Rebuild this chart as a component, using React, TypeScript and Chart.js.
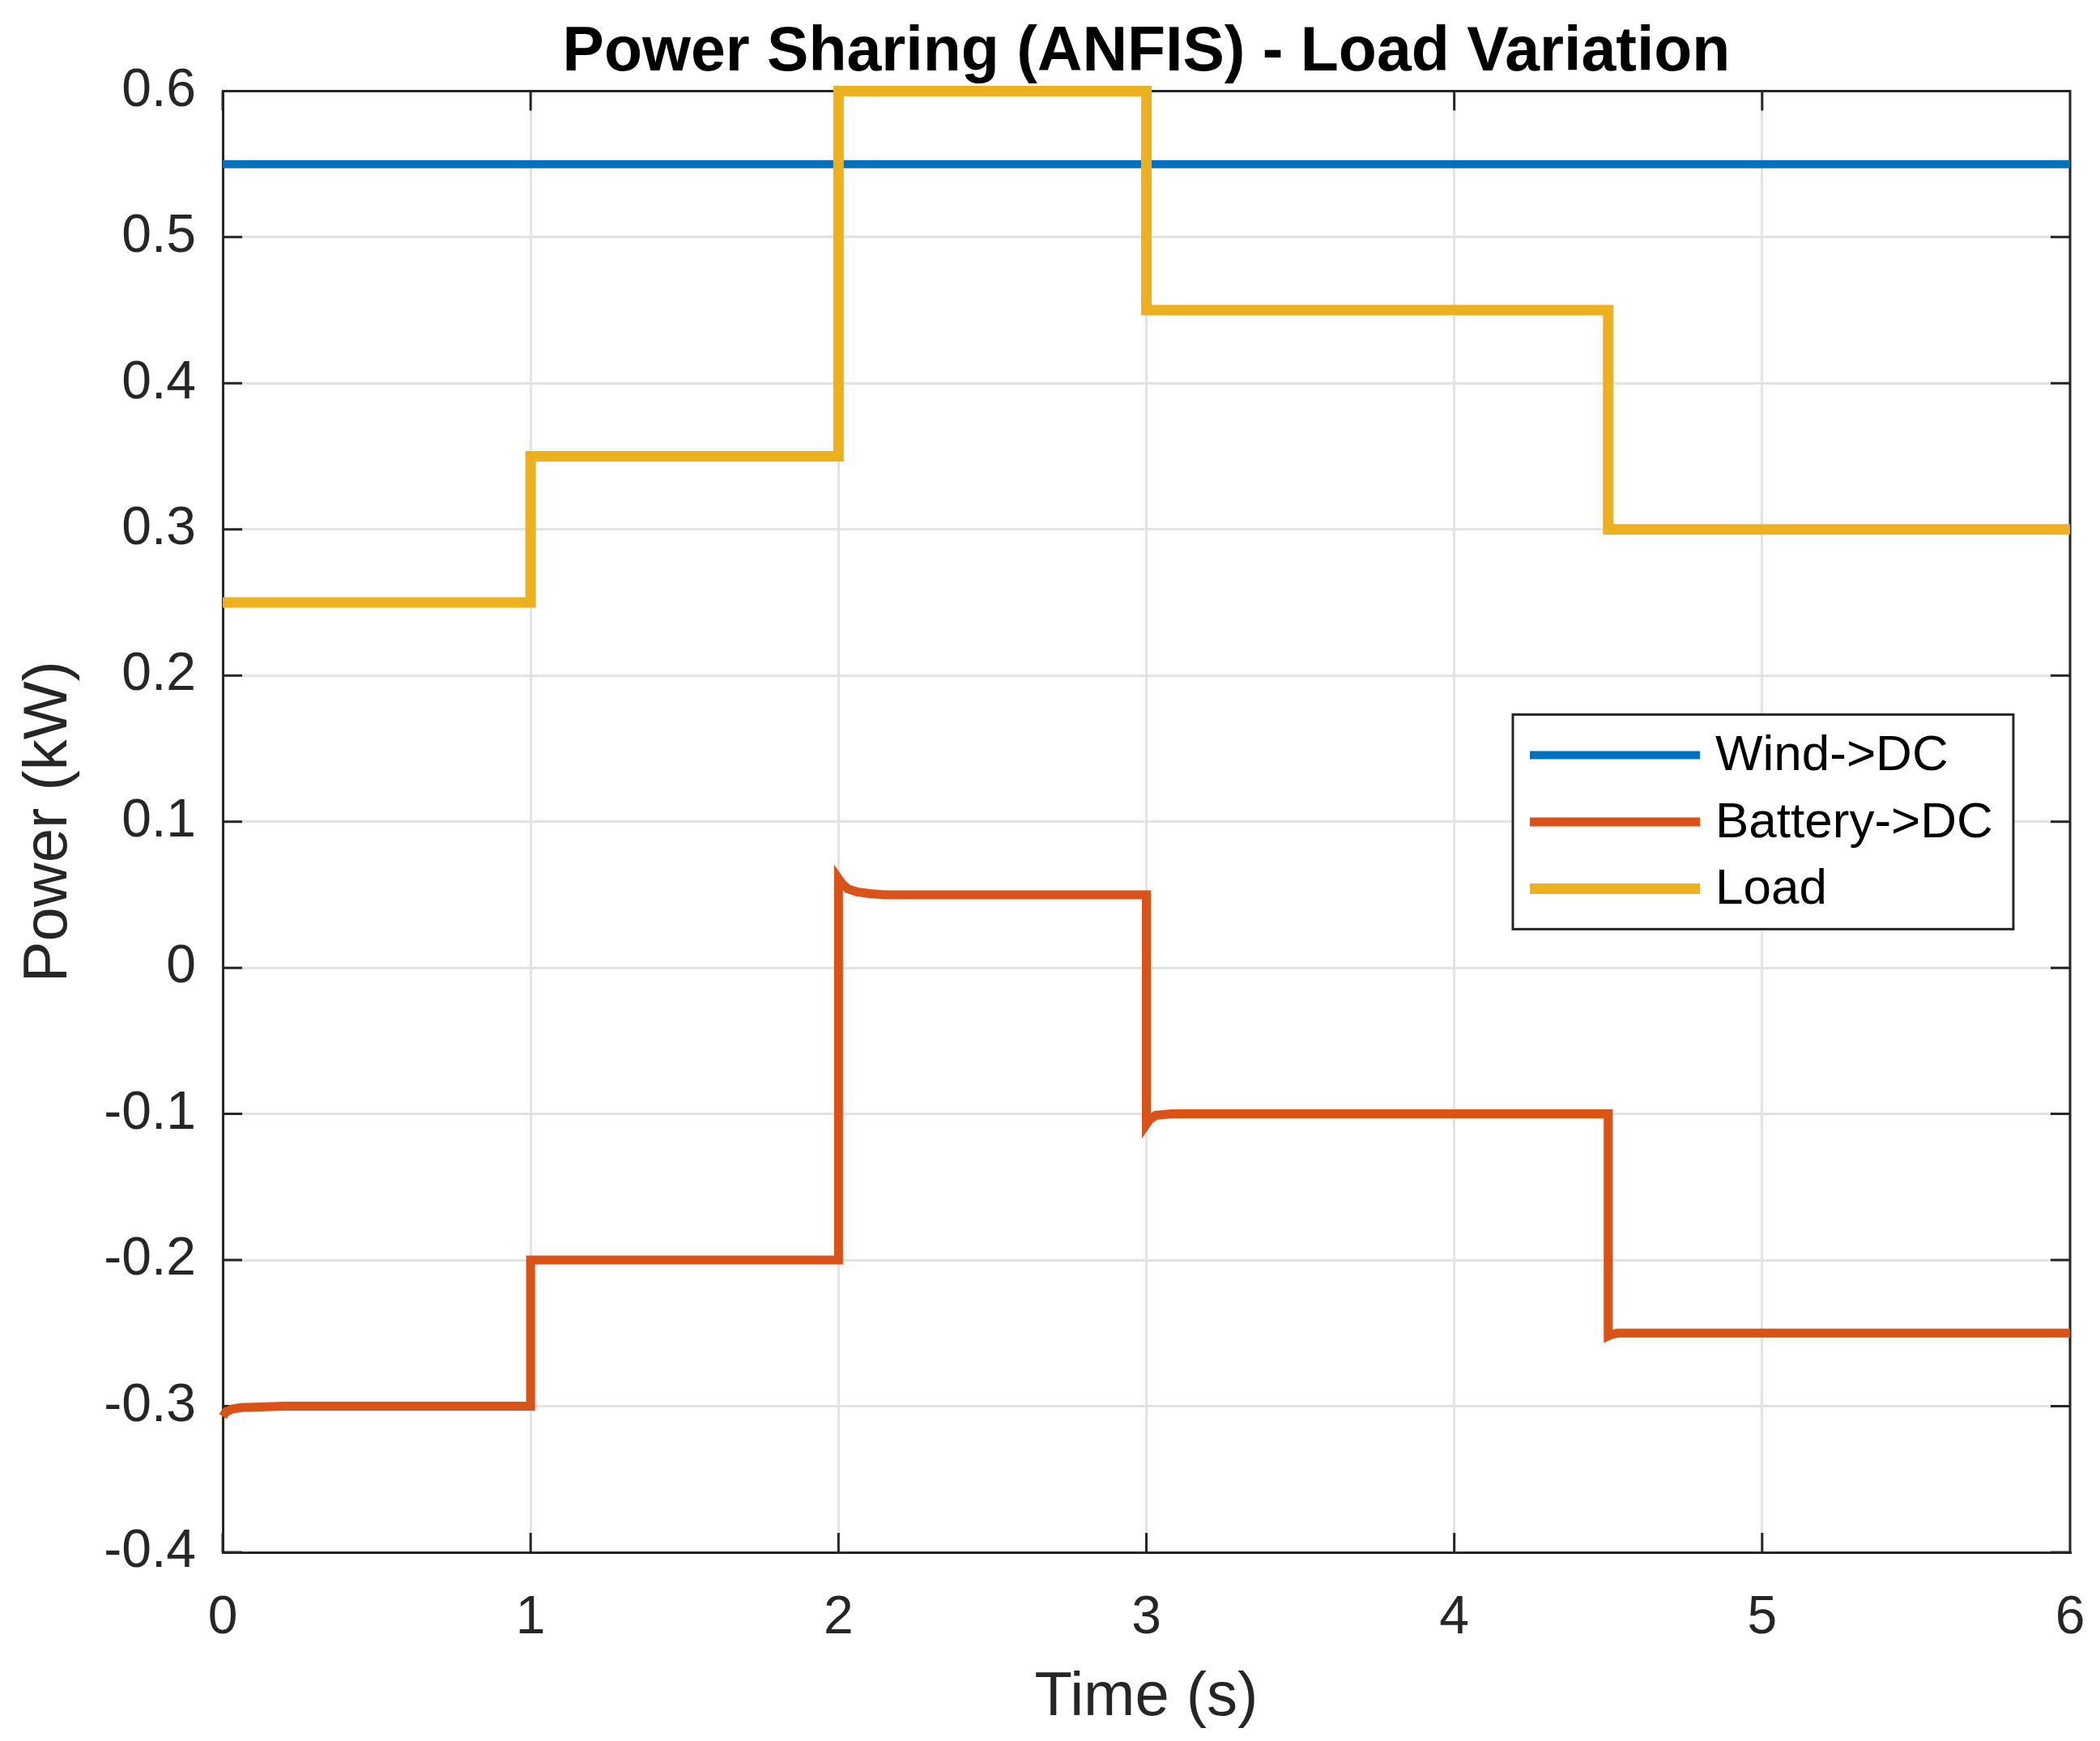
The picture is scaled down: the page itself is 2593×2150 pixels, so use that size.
import { useEffect, useRef } from 'react';
import Chart from 'chart.js/auto';

const FONT = '"Liberation Sans", Arial, Helvetica, sans-serif';
const AXIS_COLOR = '#262626';

const xTickValues = [0, 1, 2, 3, 4, 5, 6];
const xTickLabels = ['0', '1', '2', '3', '4', '5', '6'];
const yTickValues = [-0.4, -0.3, -0.2, -0.1, 0, 0.1, 0.2, 0.3, 0.4, 0.5, 0.6];
const yTickLabels = ['-0.4', '-0.3', '-0.2', '-0.1', '0', '0.1', '0.2', '0.3', '0.4', '0.5', '0.6'];

const windTime = [0, 6];
const windPower = [0.55, 0.55];

const batteryTime = [0, 0.01, 0.03, 0.06, 0.12, 0.2, 1, 1, 2, 2, 2.01, 2.03, 2.06, 2.1, 2.15, 3, 3, 3.01, 3.03, 3.08, 4.5, 4.5, 4.51, 4.53, 6];
const batteryPower = [-0.307, -0.304, -0.302, -0.301, -0.3005, -0.3, -0.3, -0.2, -0.2, 0.061, 0.058, 0.054, 0.052, 0.0508, 0.05, 0.05, -0.107, -0.104, -0.101, -0.1, -0.1, -0.252, -0.251, -0.25, -0.25];

const loadTime = [0, 1, 1, 2, 2, 3, 3, 4.5, 4.5, 6];
const loadPower = [0.25, 0.25, 0.35, 0.35, 0.6, 0.6, 0.45, 0.45, 0.3, 0.3];

const toPoints = (t: number[], p: number[]) => t.map((x, i) => ({ x, y: p[i] }));

// box outline on top/right + inward ticks on all four sides, like MATLAB
const matlabFrame = {
  id: 'matlabFrame',
  beforeDatasetsDraw(chart: any) {
    const { ctx, chartArea: a, scales } = chart;
    const len = 24;
    ctx.save();
    ctx.strokeStyle = AXIS_COLOR;
    ctx.lineWidth = 3;
    ctx.beginPath();
    ctx.moveTo(a.left, a.top);
    ctx.lineTo(a.right, a.top);
    ctx.lineTo(a.right, a.bottom);
    scales.x.ticks.forEach((t: any) => {
      const px = scales.x.getPixelForValue(t.value);
      ctx.moveTo(px, a.bottom);
      ctx.lineTo(px, a.bottom - len);
      ctx.moveTo(px, a.top);
      ctx.lineTo(px, a.top + len);
    });
    scales.y.ticks.forEach((t: any) => {
      const py = scales.y.getPixelForValue(t.value);
      ctx.moveTo(a.left, py);
      ctx.lineTo(a.left + len, py);
      ctx.moveTo(a.right, py);
      ctx.lineTo(a.right - len, py);
    });
    ctx.stroke();
    ctx.restore();
  },
};

// legend box inside the axes, north-east-ish
const insetLegend = {
  id: 'insetLegend',
  afterDatasetsDraw(chart: any) {
    const { ctx, chartArea: a } = chart;
    const w = 618;
    const h = 265;
    const left = a.right - 70 - w;
    const top = a.top + 770;
    ctx.save();
    ctx.fillStyle = '#ffffff';
    ctx.fillRect(left, top, w, h);
    ctx.strokeStyle = AXIS_COLOR;
    ctx.lineWidth = 3;
    ctx.strokeRect(left, top, w, h);
    ctx.font = `62px ${FONT}`;
    ctx.textBaseline = 'middle';
    ctx.textAlign = 'left';
    chart.data.datasets.forEach((ds: any, i: number) => {
      const y = top + 50 + i * 82.5;
      ctx.strokeStyle = ds.borderColor;
      ctx.lineWidth = ds.borderWidth;
      ctx.beginPath();
      ctx.moveTo(left + 21, y);
      ctx.lineTo(left + 231, y);
      ctx.stroke();
      ctx.fillStyle = '#000000';
      ctx.fillText(ds.label, left + 250, y + 2);
    });
    ctx.restore();
  },
};

const PowerSharingChart = () => {
  const canvasRef = useRef<HTMLCanvasElement | null>(null);
  const chartRef = useRef<Chart | null>(null);

  useEffect(() => {
    document.body.style.margin = '0';
    document.body.style.overflow = 'hidden';
    if (!canvasRef.current) return;
    const ctx = canvasRef.current.getContext('2d');
    if (!ctx) return;
    if (chartRef.current) chartRef.current.destroy();

    chartRef.current = new Chart(ctx, {
      type: 'line',
      data: {
        datasets: [
          {
            label: 'Wind->DC',
            data: toPoints(windTime, windPower),
            borderColor: '#0072BD',
            borderWidth: 10,
            pointRadius: 0,
            order: 2,
            clip: false,
          },
          {
            label: 'Battery->DC',
            data: toPoints(batteryTime, batteryPower),
            borderColor: '#D95319',
            borderWidth: 11,
            pointRadius: 0,
            order: 1,
            clip: false,
          },
          {
            label: 'Load',
            data: toPoints(loadTime, loadPower),
            borderColor: '#EDB120',
            borderWidth: 13,
            pointRadius: 0,
            order: 0,
            clip: false,
          },
        ],
      },
      options: {
        responsive: true,
        maintainAspectRatio: false,
        animation: false,
        layout: { padding: { left: 0, right: 37, top: 0, bottom: 0 } },
        plugins: {
          legend: { display: false },
          tooltip: { enabled: false },
          title: {
            display: true,
            fullSize: false,
            text: 'Power Sharing (ANFIS) - Load Variation',
            color: '#000000',
            font: { family: FONT, size: 77, weight: 'bold', lineHeight: 1.2 },
            padding: { top: 20, bottom: 0 },
          },
        },
        scales: {
          x: {
            type: 'linear',
            min: 0,
            max: 6,
            afterBuildTicks: (s: any) => {
              s.ticks = xTickValues.map(v => ({ value: v }));
            },
            afterFit: (s: any) => {
              s.height = 233;
              s.paddingLeft = 0;
              s.paddingRight = 0;
            },
            ticks: {
              callback: (_v: any, i: number) => xTickLabels[i],
              color: AXIS_COLOR,
              font: { family: FONT, size: 66 },
              padding: 42,
              maxRotation: 0,
              autoSkip: false,
            },
            grid: { color: '#e3e3e3', lineWidth: 3, drawTicks: false },
            border: { color: AXIS_COLOR, width: 3 },
            title: {
              display: true,
              text: 'Time (s)',
              color: AXIS_COLOR,
              font: { family: FONT, size: 76, lineHeight: 1.2 },
              padding: { top: 0, bottom: 7 },
            },
          },
          y: {
            type: 'linear',
            min: -0.4,
            max: 0.6,
            afterBuildTicks: (s: any) => {
              s.ticks = yTickValues.map(v => ({ value: v }));
            },
            afterFit: (s: any) => {
              s.width = 275;
              s.paddingTop = 0;
              s.paddingBottom = 0;
            },
            ticks: {
              callback: (_v: any, i: number) => yTickLabels[i],
              color: AXIS_COLOR,
              font: { family: FONT, size: 66 },
              padding: 33,
              autoSkip: false,
            },
            grid: { color: '#e3e3e3', lineWidth: 3, drawTicks: false },
            border: { color: AXIS_COLOR, width: 3 },
            title: {
              display: true,
              text: 'Power (kW)',
              color: AXIS_COLOR,
              font: { family: FONT, size: 76, lineHeight: 1.2 },
              padding: { top: 15, bottom: 0 },
            },
          },
        },
      },
      plugins: [matlabFrame, insetLegend],
    });

    return () => {
      if (chartRef.current) {
        chartRef.current.destroy();
        chartRef.current = null;
      }
    };
  }, []);

  return (
    <div style={{ width: 2593, height: 2150, position: 'relative', background: '#ffffff' }}>
      <canvas ref={canvasRef} />
    </div>
  );
};

export default function App() {
  return <PowerSharingChart />;
}
